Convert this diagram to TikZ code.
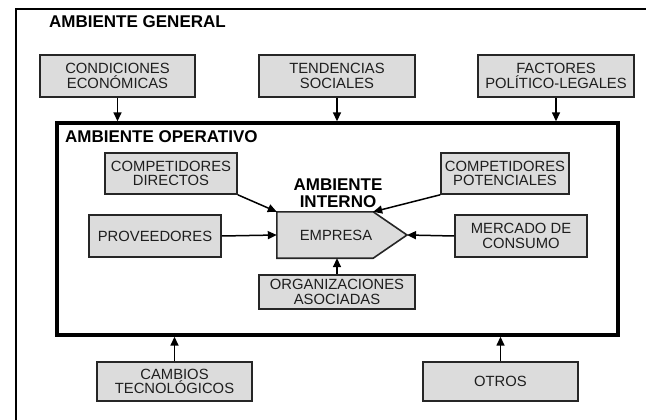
\documentclass[tikz,border=0pt]{standalone}
\usepackage{fontspec}
\setmainfont{Liberation Sans}
\usetikzlibrary{arrows.meta,calc}
\definecolor{boxfill}{HTML}{DCDCDC}
\definecolor{boxline}{HTML}{262626}
\definecolor{txt}{HTML}{1E1E1E}
\tikzset{
  gbox/.style={draw=boxline, line width=1.6pt, fill=boxfill, inner sep=0pt, align=center,
    text=txt, font=\fontsize{14.8pt}{14.6pt}\selectfont},
  title/.style={font=\bfseries\fontsize{17pt}{17pt}\selectfont, text=black, inner sep=0pt},
  conn/.style={draw=black, line width=1.5pt, -{Triangle[length=9pt,width=8pt]}},
}
\begin{document}
\begin{tikzpicture}[x=1pt,y=-1pt]
\useasboundingbox (0,0) rectangle (646,420);
% outer frame (cut off on the right and bottom)
\draw[line width=2.6pt, line join=miter] (16,420) -- (16,9) -- (646,9);
\node[title, anchor=west] (tgen) at (49,22) {AMBIENTE GENERAL};
% operative box
\node[draw=black, line width=3.4pt, minimum width=561pt, minimum height=212pt, inner sep=0pt] (op) at (337.5,229) {};
\node[title, anchor=west] (top) at (65,137) {AMBIENTE OPERATIVO};
% general environment boxes
\node[gbox, minimum width=155pt, minimum height=42pt] (cond) at (117.5,76) {CONDICIONES\\ECONÓMICAS};
\node[gbox, minimum width=156pt, minimum height=42pt] (tend) at (337,76) {TENDENCIAS\\SOCIALES};
\node[gbox, minimum width=156pt, minimum height=42pt] (fact) at (556,76) {FACTORES\\POLÍTICO-LEGALES};
\node[gbox, minimum width=155pt, minimum height=39pt] (camb) at (174.5,381.5) {CAMBIOS\\TECNOLÓGICOS};
\node[gbox, minimum width=155pt, minimum height=39pt] (otros) at (500.5,381.5) {OTROS};
% operative boxes
\node[gbox, minimum width=132pt, minimum height=41pt] (compd) at (171,173.5) {COMPETIDORES\\DIRECTOS};
\node[gbox, minimum width=128pt, minimum height=41pt] (compp) at (505,173.5) {COMPETIDORES\\POTENCIALES};
\node[gbox, minimum width=132pt, minimum height=42pt] (prov) at (155,236) {PROVEEDORES};
\node[gbox, minimum width=132pt, minimum height=42pt] (merc) at (521,236) {MERCADO DE\\CONSUMO};
\node[gbox, minimum width=156pt, minimum height=34pt] (org) at (337,292) {ORGANIZACIONES\\ASOCIADAS};
% empresa (pentagon)
\node[minimum width=96pt, minimum height=46pt, inner sep=0pt] (emp) at (325,235) {};
\coordinate (tip) at (407,235);
\draw[boxline, line width=1.6pt, fill=boxfill, line join=miter]
  (emp.north west) -- (emp.north east) -- (tip) -- (emp.south east) -- (emp.south west) -- cycle;
\node[text=txt, font=\fontsize{14.8pt}{14.6pt}\selectfont, inner sep=0pt] (emptxt) at (336,235) {EMPRESA};
\node[title, align=center] (tint) at (338,193.5) {AMBIENTE\\INTERNO};
% connectors
\draw[conn] (cond.south) -- (cond.south |- op.north);
\draw[conn] (tend.south) -- (tend.south |- op.north);
\draw[conn] (fact.south) -- (fact.south |- op.north);
\draw[conn] (camb.north) -- (camb.north |- op.south);
\draw[conn] (otros.north) -- (otros.north |- op.south);
\draw[conn] (compd.south east) -- (emp.north west);
\draw[conn] (compp.south west) -- (emp.north east);
\draw[conn] (prov.east) -- (emp.west);
\draw[conn] (merc.west) -- (tip);
\draw[conn] (org.north) -- (org.north |- emp.south);
\end{tikzpicture}
\end{document}
